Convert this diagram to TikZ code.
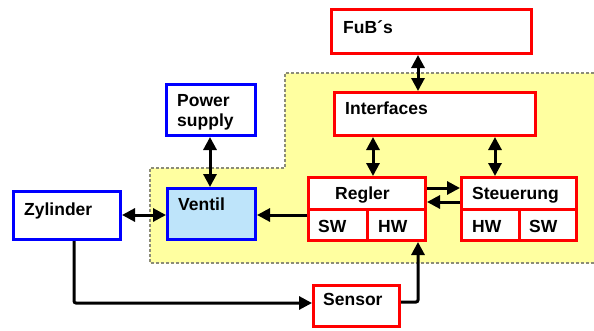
\documentclass[tikz,border=0pt]{standalone}
\usepackage{fontspec}
\setmainfont{Liberation Sans}
\usetikzlibrary{arrows.meta,calc}
\definecolor{zone}{RGB}{255,255,160}
\definecolor{vent}{RGB}{190,228,250}
\definecolor{myblue}{RGB}{0,0,255}
\definecolor{zoneedge}{RGB}{140,140,120}
\begin{document}
\begin{tikzpicture}[x=1pt,y=-1pt,
  box/.style={draw, line width=3pt, fill=white, inner sep=0pt},
  rbox/.style={box, draw=red},
  bbox/.style={box, draw=myblue},
  lbl/.style={anchor=base west, inner sep=0pt, font=\fontsize{17.5}{20}\selectfont\bfseries, align=left},
  tip/.tip={Triangle[length=13pt,width=13pt]},
  con/.style={line width=3pt, -tip},
  dcon/.style={line width=3pt, tip-tip},
  divline/.style={draw=red, line width=3pt}
]
\useasboundingbox (0,0) rectangle (594,330);
% zone
\fill[zone] (150,168) -- (285,168) -- (285,73) -- (594,73) -- (594,263) -- (150,263) -- cycle;
\draw[zoneedge, line width=1.2pt, dash pattern=on 3pt off 2pt] (594,263) -- (150,263) -- (150,168) -- (285,168) -- (285,73) -- (594,73);

% boxes
\node[rbox, minimum width=200pt, minimum height=44pt] (fub) at (431.5,31.5) {};
\node[rbox, minimum width=201pt, minimum height=43pt] (inter) at (435,114) {};
\node[bbox, minimum width=89pt, minimum height=51pt] (power) at (211,110) {};
\node[bbox, minimum width=107pt, minimum height=48pt] (zyl) at (67,215.5) {};
\node[bbox, fill=vent, minimum width=88pt, minimum height=51pt] (vent) at (211.5,214) {};
\node[rbox, minimum width=117pt, minimum height=63pt] (regler) at (367,209) {};
\node[rbox, minimum width=115pt, minimum height=63pt] (steu) at (519,209) {};
\node[rbox, minimum width=86pt, minimum height=41pt] (sensor) at (356.5,306) {};

% dividers
\draw[divline] (regler.west |- regler.center) -- (regler.east |- regler.center);
\draw[divline] (regler.center) -- (regler.south);
\draw[divline] (steu.west |- steu.center) -- (steu.east |- steu.center);
\draw[divline] (steu.center) -- (steu.south);

% labels
\node[lbl] (tfub) at (343,33) {FuB´s};
\node[lbl] (tinter) at (345,114) {Interfaces};
\node[lbl] (tpower) at (177,126) {Power\\supply};
\node[lbl] (tzyl) at (24,215) {Zylinder};
\node[lbl] (tvent) at (178,210) {Ventil};
\node[lbl] (treg) at (335,199) {Regler};
\node[lbl] (tsw1) at (318,232) {SW};
\node[lbl] (thw1) at (378,232) {HW};
\node[lbl] (tsteu) at (472,199) {Steuerung};
\node[lbl] (thw2) at (472,232) {HW};
\node[lbl] (tsw2) at (529,232) {SW};
\node[lbl] (tsensor) at (323,305) {Sensor};

% connectors
\draw[dcon] ([xshift=-13.5pt]fub.south) -- ([xshift=-17pt]inter.north);
\draw[dcon] ([xshift=6pt]regler.north |- inter.south) -- ([xshift=6pt]regler.north);
\draw[dcon] ([xshift=-24pt]steu.north |- inter.south) -- ([xshift=-24pt]steu.north);
\draw[dcon] ([xshift=-1pt]power.south) -- ([xshift=-1.5pt]vent.north);
\draw[dcon] (zyl.east |- 0,215) -- (vent.west |- 0,215);
\draw[con] (regler.west |- 0,215) -- (vent.east |- 0,215);
\draw[con] (regler.east |- 0,188) -- (steu.west |- 0,188);
\draw[con] (steu.west |- 0,202) -- (regler.east |- 0,202);
\coordinate (c1) at (74,303);
\coordinate (c2) at (418,302);
\draw[con, rounded corners=2pt] (zyl.south -| c1) -- (c1) -- (sensor.west |- c1);
\draw[con, rounded corners=2pt] (sensor.east |- c2) -- (c2) -- (regler.south -| c2);
\end{tikzpicture}
\end{document}
